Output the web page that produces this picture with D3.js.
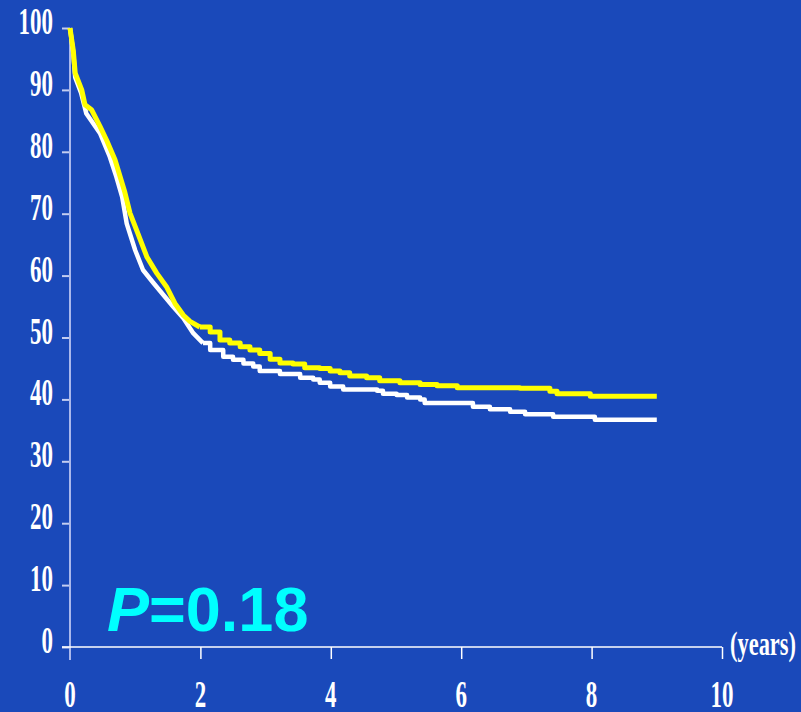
<!DOCTYPE html>
<html>
<head>
<meta charset="utf-8">
<script src="https://cdn.jsdelivr.net/npm/d3@7"></script>
<style>
  html, body { margin: 0; padding: 0; background: #1a49ba; }
  svg { display: block; }
</style>
</head>
<body>
<svg id="chart"></svg>
<script>
// survival curves (years, percent)
const yellowYears = [0, 0.05, 0.08, 0.18, 0.23, 0.33, 0.46, 0.56, 0.69, 0.84, 0.92, 1.02, 1.18, 1.33, 1.48, 1.61, 1.74, 1.84, 1.99, 2.15, 2.30, 2.45, 2.61, 2.76, 2.91, 3.07, 3.22, 3.42, 3.60, 3.83, 3.99, 4.14, 4.29, 4.55, 4.75, 5.06, 5.37, 5.63, 5.94, 6.90, 7.36, 7.47, 7.98, 9.0];
const yellowSurv  = [100, 96.4, 92.7, 90, 87.6, 86.8, 84.1, 81.9, 78.7, 73.5, 70.1, 67.4, 63, 60.4, 58.2, 55.5, 53.6, 52.6, 51.7, 50.9, 49.6, 49.1, 48.5, 48.0, 47.4, 46.5, 45.9, 45.7, 45.1, 45.0, 44.6, 44.3, 43.8, 43.5, 43.0, 42.7, 42.4, 42.2, 41.9, 41.8, 41.3, 40.9, 40.5, 40.5];

const whiteYears = [0, 0.05, 0.08, 0.17, 0.25, 0.46, 0.61, 0.71, 0.8, 0.87, 1.0, 1.12, 1.28, 1.43, 1.58, 1.74, 1.89, 2.04, 2.15, 2.35, 2.50, 2.66, 2.81, 2.91, 3.22, 3.53, 3.73, 3.83, 3.99, 4.19, 4.71, 4.80, 5.01, 5.17, 5.37, 5.44, 6.03, 6.18, 6.44, 6.75, 6.98, 7.41, 8.05, 9.0];
const whiteSurv  = [100, 96, 92, 89.5, 86.2, 83, 79.2, 76, 72.7, 68.4, 64.1, 60.9, 58.8, 56.9, 55.0, 53.1, 50.7, 49.1, 48.0, 46.9, 46.4, 45.8, 45.3, 44.6, 44.1, 43.5, 43.2, 42.7, 42.1, 41.6, 41.4, 40.9, 40.7, 40.3, 40.0, 39.4, 39.4, 38.8, 38.4, 38.0, 37.6, 37.2, 36.7, 36.7];

const xTicks = [0, 2, 4, 6, 8, 10];
const yTicks = [0, 10, 20, 30, 40, 50, 60, 70, 80, 90, 100];
const pLabel = ["P", "=0.18"];

const W = 801, H = 712;
const bg = "#1a49ba";
const stepFrom = 1.95; // steep part drawn smooth, flat tail as stairs

const svg = d3.select("#chart").attr("width", W).attr("height", H);
svg.append("rect").attr("width", W).attr("height", H).attr("fill", bg);

const x = d3.scaleLinear().domain([0, 10]).range([70, 722]);
const y = d3.scaleLinear().domain([0, 100]).range([647, 28]);

const serif = "'Liberation Serif', 'Times New Roman', serif";

// y axis
const yAxis = svg.append("g")
  .attr("transform", `translate(${x(0)},0)`)
  .call(d3.axisLeft(y).tickValues(yTicks).tickSize(8).tickFormat(""));
yAxis.select(".domain").remove();
yAxis.selectAll(".tick line").attr("stroke", "#c4cdf0").attr("stroke-width", 2);
svg.append("line")
  .attr("x1", x(0)).attr("x2", x(0))
  .attr("y1", y(100)).attr("y2", 660)
  .attr("stroke", "#aab8ec").attr("stroke-width", 2);

yTicks.forEach(t => {
  svg.append("text")
    .attr("transform", `translate(53,${y(t) + 6}) scale(0.62,1)`)
    .attr("text-anchor", "end")
    .attr("fill", "#ffffff")
    .attr("font-family", serif)
    .attr("font-weight", "bold")
    .attr("font-size", 37)
    .text(t);
});

// x axis
const xAxis = svg.append("g")
  .attr("transform", `translate(0,${y(0)})`)
  .call(d3.axisBottom(x).tickValues(xTicks.slice(1)).tickSize(12).tickFormat(""));
xAxis.select(".domain").remove();
xAxis.selectAll(".tick line").attr("stroke", "#ffffff").attr("stroke-width", 1.5);
svg.append("line")
  .attr("x1", 62).attr("x2", x(10))
  .attr("y1", y(0)).attr("y2", y(0))
  .attr("stroke", "#ffffff").attr("stroke-width", 1.5);

xTicks.forEach(t => {
  svg.append("text")
    .attr("transform", `translate(${x(t)},707) scale(0.62,1)`)
    .attr("text-anchor", "middle")
    .attr("fill", "#ffffff")
    .attr("font-family", serif)
    .attr("font-weight", "bold")
    .attr("font-size", 37)
    .text(t);
});

svg.append("text")
  .attr("transform", "translate(730,655) scale(0.66,1)")
  .attr("fill", "#ffffff")
  .attr("font-family", serif)
  .attr("font-weight", "bold")
  .attr("font-size", 34)
  .text("(years)");

// curves
const smooth = d3.line()
  .x(d => x(d[0]))
  .y(d => y(d[1]))
  .curve(d3.curveLinear);
const steps = d3.line()
  .x(d => x(d[0]))
  .y(d => y(d[1]))
  .curve(d3.curveStepAfter);

function drawCurve(years, surv, color, width) {
  const pts = d3.zip(years, surv);
  const k = pts.findIndex(p => p[0] >= stepFrom);
  const g = svg.append("g")
    .attr("fill", "none")
    .attr("stroke", color)
    .attr("stroke-width", width)
    .attr("stroke-linejoin", "round");
  g.append("path").attr("d", smooth(pts.slice(0, k + 1)));
  g.append("path").attr("d", steps(pts.slice(k)));
}

drawCurve(whiteYears, whiteSurv, "#ffffff", 4.5);
drawCurve(yellowYears, yellowSurv, "#ffff00", 5);

// p value
const pText = svg.append("text")
  .attr("x", 107).attr("y", 631)
  .attr("fill", "#00ffff")
  .attr("font-family", "'Liberation Sans', Arial, sans-serif")
  .attr("font-weight", "bold")
  .attr("font-size", 63);
pText.append("tspan").attr("font-style", "italic").text(pLabel[0]);
pText.append("tspan").text(pLabel[1]);
</script>
</body>
</html>
